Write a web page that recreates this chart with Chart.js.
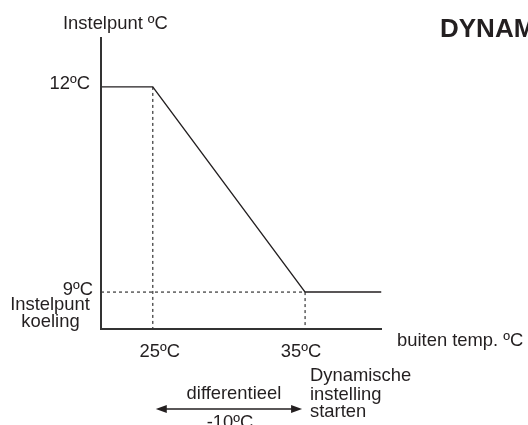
<!DOCTYPE html>
<html lang="nl">
<head>
    <meta charset="UTF-8">
    <title>Dynamische instelling</title>
    <script src="https://cdn.jsdelivr.net/npm/chart.js"></script>
    <style>
        body { margin: 0; background: #fff; }
        canvas { display: block; }
    </style>
</head>
<body>
    <canvas id="setpointChart" width="528" height="425"></canvas>

    <script>
        // buiten temperatuur (x) en instelpunt (y)
        const outsideTemp = [21.6, 25, 35, 40];
        const setpoint = [12, 12, 9, 9];

        const xRange = [21.6, 40.05];
        const yRange = [8.46, 12.73];

        const xTickValues = [25, 35];
        const xTickLabels = ['25ºC', '35ºC'];
        const yTickValues = [12, 9];
        const yTickLabels = ['12ºC', '9ºC'];

        const diffLabel = 'differentieel';
        const diffValue = '-10ºC';

        const FONT = '"Liberation Sans", Arial, sans-serif';
        const INK = '#231f20';

        const mainData = outsideTemp.map((x, i) => ({ x: x, y: setpoint[i] }));

        // hulplijnen (gestippeld)
        const guides = [
            [{ x: xTickValues[0], y: yTickValues[0] }, { x: xTickValues[0], y: yRange[0] }],
            [{ x: xTickValues[1], y: yTickValues[1] }, { x: xTickValues[1], y: yRange[0] }],
            [{ x: xRange[0], y: yTickValues[1] }, { x: xTickValues[1], y: yTickValues[1] }]
        ];

        const guideSets = guides.map(pts => ({
            data: pts,
            showLine: true,
            borderColor: '#333',
            borderWidth: 1.2,
            borderDash: [3, 3],
            pointRadius: 0
        }));

        const annotations = {
            id: 'annotations',
            afterDraw(chart) {
                const ctx = chart.ctx;
                const a = chart.chartArea;
                const xs = chart.scales.x;
                const ys = chart.scales.y;
                ctx.save();

                // assen
                ctx.strokeStyle = '#333';
                ctx.lineWidth = 2;
                ctx.beginPath();
                ctx.moveTo(a.left, a.top);
                ctx.lineTo(a.left, a.bottom);
                ctx.lineTo(a.right, a.bottom);
                ctx.stroke();

                ctx.fillStyle = INK;
                ctx.textBaseline = 'middle';
                ctx.font = '18.4px ' + FONT;

                // y labels
                ctx.textAlign = 'right';
                const yDy = [-3, -2];
                const yDx = [-11, -8];
                yTickValues.forEach((v, i) => {
                    ctx.fillText(yTickLabels[i], a.left + yDx[i], ys.getPixelForValue(v) + yDy[i]);
                });

                // x labels
                ctx.textAlign = 'center';
                const xDx = [7, -4];
                xTickValues.forEach((v, i) => {
                    ctx.fillText(xTickLabels[i], xs.getPixelForValue(v) + xDx[i], a.bottom + 23);
                });

                ctx.fillText('Instelpunt', 50, 305);
                ctx.fillText('koeling', 50.5, 322);

                ctx.textAlign = 'left';
                ctx.fillText('Instelpunt ºC', 63, 24);
                ctx.fillText('buiten temp. ºC', a.right + 15, a.bottom + 12);

                ctx.fillText('Dynamische', 310, 376);
                ctx.fillText('instelling', 310, 395);
                ctx.fillText('starten', 310, 412);

                // differentieel pijl
                const x1 = xs.getPixelForValue(xTickValues[0]) + 3;
                const x2 = xs.getPixelForValue(xTickValues[1]) - 3;
                const ay = 409;
                ctx.strokeStyle = INK;
                ctx.lineWidth = 1.3;
                ctx.beginPath();
                ctx.moveTo(x1 + 6, ay);
                ctx.lineTo(x2 - 6, ay);
                ctx.stroke();
                ctx.beginPath();
                ctx.moveTo(x1, ay);
                ctx.lineTo(x1 + 11, ay - 4);
                ctx.lineTo(x1 + 11, ay + 4);
                ctx.closePath();
                ctx.moveTo(x2, ay);
                ctx.lineTo(x2 - 11, ay - 4);
                ctx.lineTo(x2 - 11, ay + 4);
                ctx.closePath();
                ctx.fill();

                ctx.textAlign = 'center';
                ctx.fillText(diffLabel, (x1 + x2) / 2 + 5, 394);
                ctx.fillText(diffValue, (x1 + x2) / 2 + 1, 423);

                // titel
                ctx.textAlign = 'left';
                ctx.font = 'bold 26px ' + FONT;
                ctx.fillText('DYNAMISCHE', 440, 30);

                ctx.restore();
            }
        };

        new Chart(document.getElementById('setpointChart'), {
            type: 'scatter',
            data: {
                datasets: [{
                    data: mainData,
                    showLine: true,
                    borderColor: INK,
                    borderWidth: 1.4,
                    pointRadius: 0,
                    tension: 0
                }].concat(guideSets)
            },
            options: {
                responsive: false,
                animation: false,
                layout: {
                    padding: { left: 101, right: 146, top: 37, bottom: 96 }
                },
                plugins: {
                    legend: { display: false },
                    tooltip: { enabled: false }
                },
                scales: {
                    x: { type: 'linear', min: xRange[0], max: xRange[1], display: false },
                    y: { type: 'linear', min: yRange[0], max: yRange[1], display: false }
                }
            },
            plugins: [annotations]
        });
    </script>
</body>
</html>
